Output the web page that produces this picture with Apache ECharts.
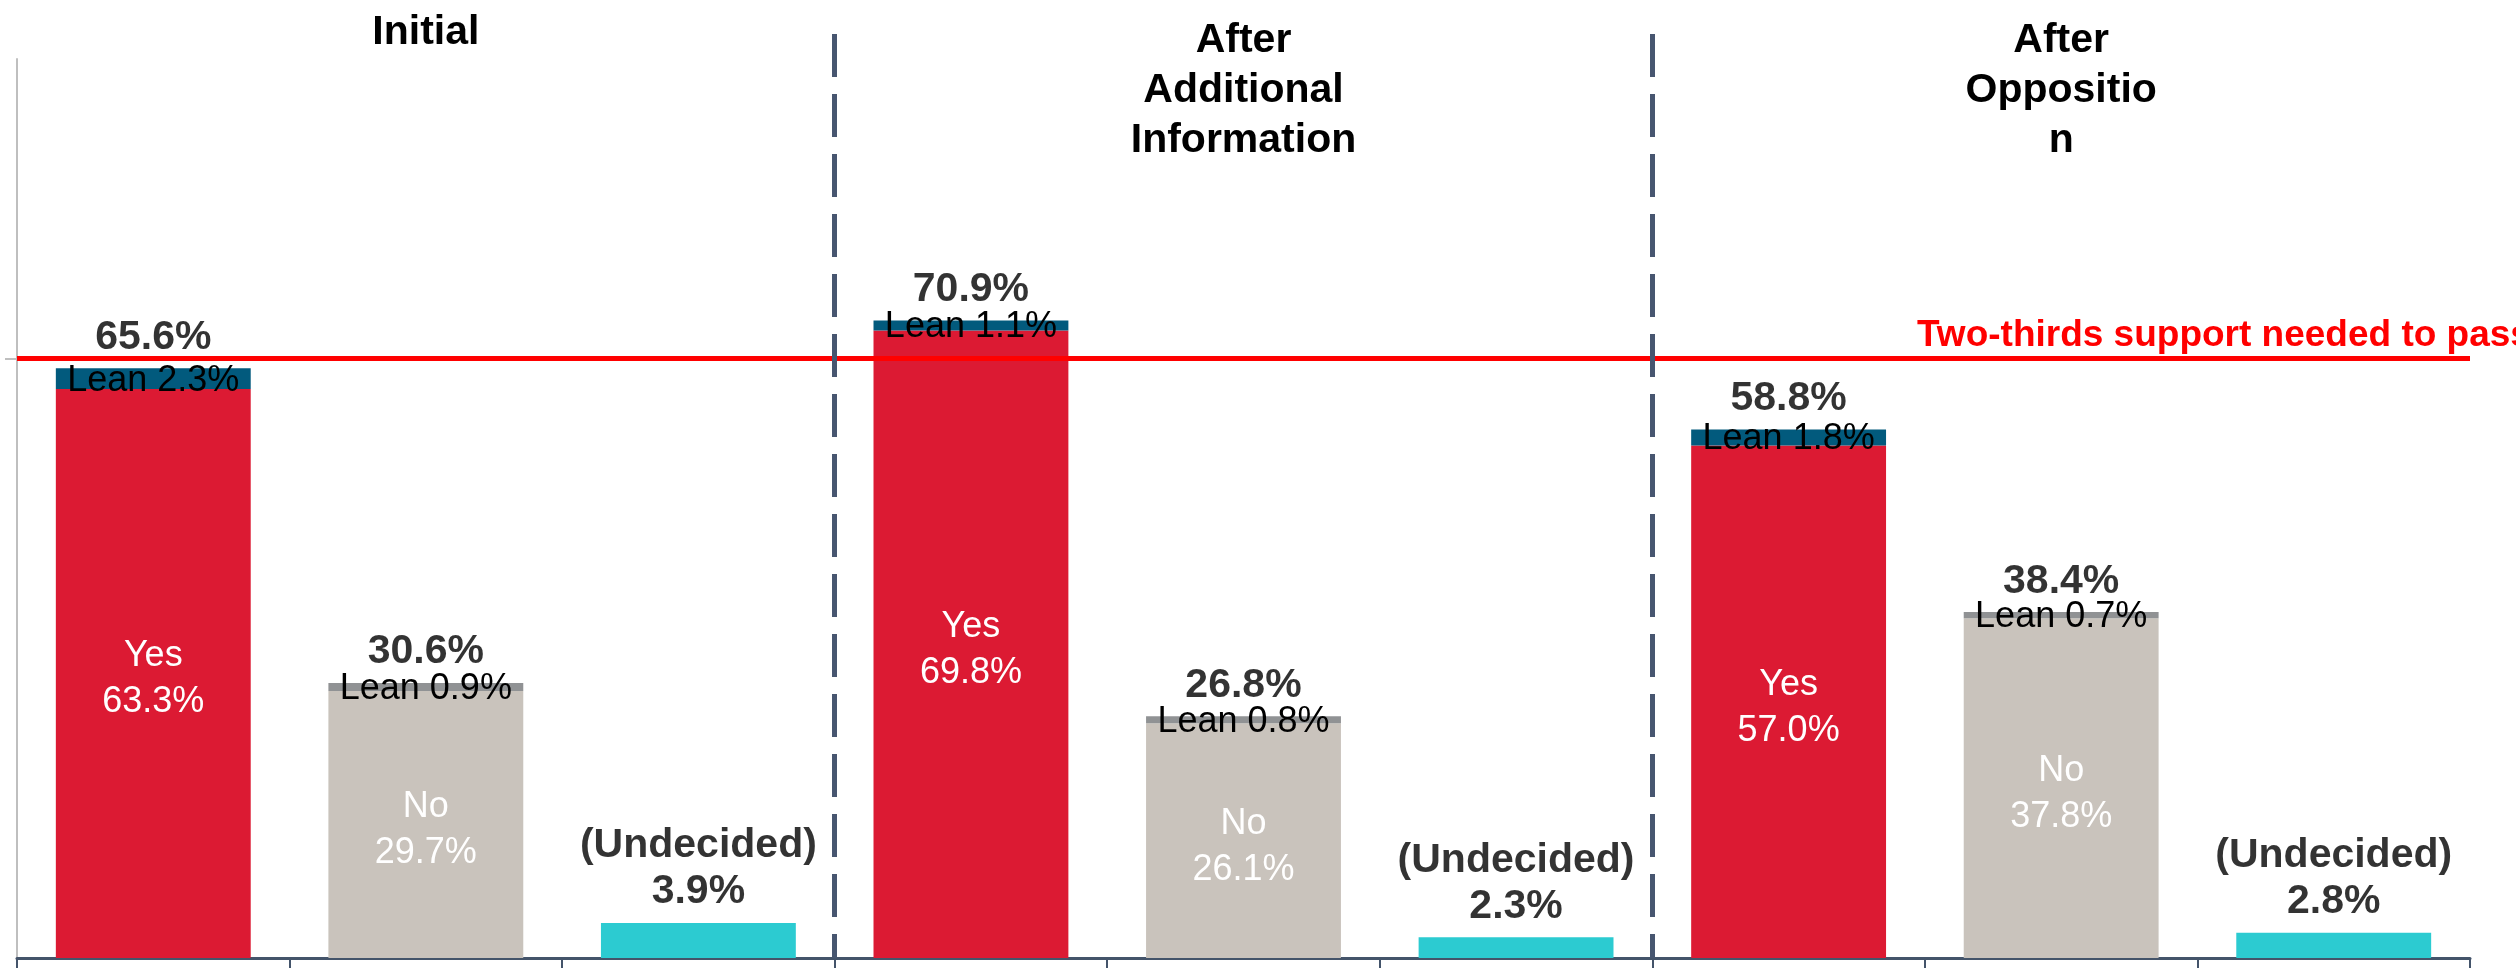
<!DOCTYPE html>
<html lang="en">
<head>
    <meta charset="UTF-8">
    <title>Support for the measure</title>
    <script src="https://cdn.jsdelivr.net/npm/echarts@6/dist/echarts.min.js"></script>
    <style>
        html, body { margin: 0; padding: 0; background: #fff; }
    </style>
</head>
<body>
    <div id="chart" style="width: 2516px; height: 968px;"></div>

    <script>
        // data
        var groupLabels = ['Initial', 'After\nAdditional\nInformation', 'After\nOppositio\nn'];
        var kinds = ['Yes', 'No', 'Undecided', 'Yes', 'No', 'Undecided', 'Yes', 'No', 'Undecided'];
        var baseValues = [63.3, 29.7, 3.9, 69.8, 26.1, 2.3, 57.0, 37.8, 2.8];
        var leanValues = [2.3, 0.9, '-', 1.1, 0.8, '-', 1.8, 0.7, '-'];
        var totalValues = [65.6, 30.6, 3.9, 70.9, 26.8, 2.3, 58.8, 38.4, 2.8];
        var threshold = 66.7;
        var thresholdLabel = 'Two-thirds support needed to pass';

        var font = "'Liberation Sans', Arial, sans-serif";
        var baseColors = { Yes: '#DC1A33', No: '#C9C3BC', Undecided: '#2CCBD1' };
        var leanColors = { Yes: '#025A7D', No: '#909294' };

        var chart = echarts.init(document.getElementById('chart'));

        var baseData = baseValues.map(function (v, i) {
            return { value: v, itemStyle: { color: baseColors[kinds[i]] } };
        });
        var leanData = leanValues.map(function (v, i) {
            return { value: v, itemStyle: { color: leanColors[kinds[i]] || '#999' } };
        });

        chart.setOption({
            animation: false,
            backgroundColor: '#ffffff',
            textStyle: { fontFamily: font },
            grid: [
                { left: 17, right: 46, top: 59, bottom: 10 },
                // second grid only holds the group titles and dashed separators
                { left: 17, right: 46, top: 34, bottom: 10 }
            ],
            xAxis: [
                {
                    type: 'category',
                    gridIndex: 0,
                    data: kinds,
                    axisLine: { lineStyle: { color: '#44546A', width: 3 } },
                    axisTick: { show: true, length: 12, lineStyle: { color: '#44546A', width: 2 } },
                    axisLabel: { show: false },
                    splitLine: { show: false }
                },
                {
                    type: 'category',
                    gridIndex: 1,
                    position: 'top',
                    data: groupLabels,
                    z: 10,
                    axisLine: { show: false },
                    axisTick: { show: false },
                    axisLabel: {
                        interval: 0,
                        verticalAlign: 'top',
                        margin: 18,
                        color: '#000',
                        fontFamily: font,
                        fontWeight: 'bold',
                        fontSize: 41,
                        lineHeight: 50,
                        // the one-line title sits a little higher than the wrapped ones
                        formatter: function (v) {
                            return v.indexOf('\n') < 0 ? '{s|' + v + '}' : v;
                        },
                        rich: {
                            s: { color: '#000', fontFamily: font, fontWeight: 'bold', fontSize: 41, lineHeight: 34 }
                        }
                    },
                    splitLine: {
                        show: true,
                        interval: 0,
                        showMinLine: false,
                        showMaxLine: false,
                        lineStyle: { color: '#475670', width: 5, type: [43, 17] }
                    }
                }
            ],
            yAxis: [
                {
                    type: 'value',
                    gridIndex: 0,
                    min: 0,
                    max: 100,
                    axisLine: { show: true, lineStyle: { color: '#BFBFBF', width: 2 } },
                    axisTick: { show: true, length: 12, customValues: [threshold], lineStyle: { color: '#BFBFBF', width: 2 } },
                    axisLabel: { show: false },
                    splitLine: { show: false }
                },
                { type: 'value', gridIndex: 1, show: false, min: 0, max: 100 }
            ],
            series: [
                {
                    name: 'Base',
                    type: 'bar',
                    stack: 'vote',
                    barWidth: '71.5%',
                    data: baseData,
                    label: {
                        show: true,
                        position: 'inside',
                        offset: [0, 6],
                        color: '#ffffff',
                        fontFamily: font,
                        fontSize: 36,
                        lineHeight: 46,
                        formatter: function (p) {
                            if (kinds[p.dataIndex] === 'Undecided') return '';
                            return kinds[p.dataIndex] + '\n' + p.value.toFixed(1) + '%';
                        }
                    },
                    markLine: {
                        silent: true,
                        symbol: 'none',
                        lineStyle: { color: '#FF0000', width: 5, type: 'solid' },
                        label: {
                            show: true,
                            position: 'insideStartTop',
                            distance: [1900, 4],
                            color: '#FF0000',
                            fontFamily: font,
                            fontWeight: 'bold',
                            fontSize: 37,
                            formatter: thresholdLabel
                        },
                        data: [{ yAxis: threshold }]
                    }
                },
                {
                    name: 'Lean',
                    type: 'bar',
                    stack: 'vote',
                    barWidth: '71.5%',
                    data: leanData,
                    label: {
                        show: true,
                        position: 'inside',
                        offset: [0, 2],
                        color: '#000000',
                        fontFamily: font,
                        fontSize: 36,
                        formatter: function (p) {
                            return 'Lean ' + p.value.toFixed(1) + '%';
                        }
                    }
                },
                {
                    name: 'Total',
                    type: 'scatter',
                    data: totalValues,
                    symbolSize: 0,
                    itemStyle: { color: 'rgba(0,0,0,0)' },
                    label: {
                        show: true,
                        position: 'top',
                        distance: 8,
                        color: '#000000',
                        fontFamily: font,
                        fontWeight: 'bold',
                        fontSize: 41,
                        lineHeight: 46,
                        formatter: function (p) {
                            var txt = p.value.toFixed(1) + '%';
                            return kinds[p.dataIndex] === 'Undecided' ? '(Undecided)\n' + txt : txt;
                        }
                    }
                }
            ]
        });
    </script>
</body>
</html>
